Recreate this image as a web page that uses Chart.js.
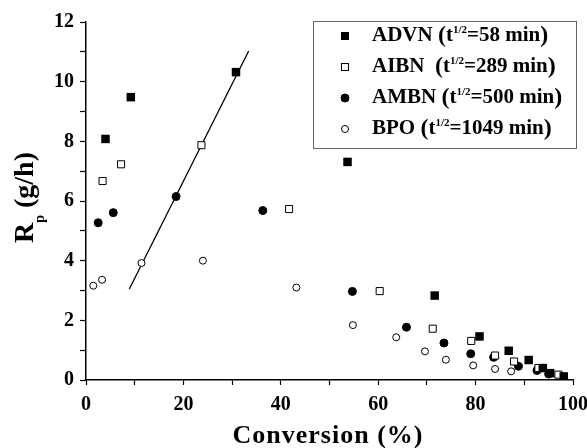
<!DOCTYPE html>
<html lang="en">
<head>
    <meta charset="UTF-8">
    <title>Rp vs Conversion</title>
    <style>
body {
    margin: 0;
    padding: 0;
    background: #fff;
}
.chart-box {
    width: 587px;
    height: 448px;
}
    </style>
    <script src="https://cdn.jsdelivr.net/npm/chart.js"></script>
</head>
<body>
    <div class="chart-box">
        <canvas id="rpChart"></canvas>
    </div>

    <script>
// data: conversion (%) and Rp (g/h)
const advnX = [4.0, 9.2, 30.8, 53.7, 71.6, 80.8, 86.8, 90.9, 93.8, 95.3, 98.1];
const advnY = [8.08, 9.48, 10.32, 7.31, 2.83, 1.46, 0.98, 0.67, 0.40, 0.23, 0.12];

const aibnX = [3.4, 7.2, 23.7, 41.7, 60.3, 71.2, 79.1, 84.0, 87.9, 92.9, 97.0];
const aibnY = [6.67, 7.23, 7.87, 5.73, 2.98, 1.72, 1.31, 0.82, 0.62, 0.40, 0.18];

const ambnX = [2.5, 5.6, 18.5, 36.3, 54.7, 65.8, 73.5, 79.0, 83.7, 88.8, 92.6, 95.0];
const ambnY = [5.27, 5.61, 6.15, 5.68, 2.97, 1.77, 1.24, 0.88, 0.76, 0.46, 0.32, 0.20];

const bpoX = [1.5, 3.3, 11.4, 24.0, 43.2, 54.8, 63.7, 69.6, 73.9, 79.5, 84.0, 87.3];
const bpoY = [3.16, 3.36, 3.92, 4.00, 3.10, 1.84, 1.43, 0.96, 0.68, 0.49, 0.37, 0.29];

// straight guide line
const fitX = [8.9, 33.4];
const fitY = [3.05, 11.03];

const legendNames = ["ADVN ", "AIBN  ", "AMBN ", "BPO "];
const legendHalfLife = ["58", "289", "500", "1049"];

const serif = "'Liberation Serif', 'Times New Roman', serif";

function pts(xs, ys) {
    return xs.map((x, i) => ({ x: x, y: ys[i] }));
}

// titles and legend with sub/superscripts
const textPlugin = {
    id: "textPlugin",
    afterDraw(chart) {
        const ctx = chart.ctx;
        ctx.save();
        ctx.fillStyle = "#000";
        ctx.textBaseline = "alphabetic";
        ctx.textAlign = "left";

        // y title: R_p (g/h)
        ctx.save();
        ctx.translate(33, 243);
        ctx.rotate(-Math.PI / 2);
        let x = 0;
        ctx.font = "bold 28px " + serif;
        ctx.fillText("R", x, 0);
        x += ctx.measureText("R").width;
        ctx.font = "bold 14px " + serif;
        ctx.fillText("p", x, 11);
        x += ctx.measureText("p").width;
        ctx.font = "bold 28px " + serif;
        ctx.fillText(" (g/h)", x, 0);
        ctx.restore();

        // x title
        ctx.save();
        ctx.font = "bold 26px " + serif;
        ctx.letterSpacing = "1px";
        ctx.textAlign = "center";
        ctx.fillText("Conversion (%)", 328, 443);
        ctx.restore();

        // legend box
        ctx.strokeStyle = "#666";
        ctx.lineWidth = 1;
        ctx.strokeRect(313.5, 21.5, 263, 127);

        const rows = [41, 72, 103, 134];
        rows.forEach((ry, i) => {
            const mx = 345, my = ry - 5;
            ctx.lineWidth = 1;
            ctx.strokeStyle = "#000";
            if (i === 0) {
                ctx.fillStyle = "#000";
                ctx.fillRect(mx - 4, my - 4, 8, 8);
            } else if (i === 1) {
                ctx.fillStyle = "#fff";
                ctx.fillRect(mx - 3.5, my - 3.5, 7, 7);
                ctx.strokeRect(mx - 3.5, my - 3.5, 7, 7);
            } else {
                ctx.beginPath();
                ctx.arc(mx, my, i === 2 ? 4 : 3.5, 0, Math.PI * 2);
                ctx.fillStyle = i === 2 ? "#000" : "#fff";
                ctx.fill();
                ctx.stroke();
            }
            ctx.fillStyle = "#000";
            let tx = 372;
            ctx.font = "bold 21px " + serif;
            ctx.fillText(legendNames[i], tx, ry);
            tx += ctx.measureText(legendNames[i]).width;
            ctx.font = "bold 24px " + serif;
            ctx.fillText("(", tx, ry + 1);
            tx += ctx.measureText("(").width;
            ctx.font = "bold 21px " + serif;
            ctx.fillText("t", tx, ry);
            tx += ctx.measureText("t").width;
            ctx.font = "bold 11px " + serif;
            ctx.fillText("1/2", tx, ry - 8);
            tx += ctx.measureText("1/2").width;
            ctx.font = "bold 21px " + serif;
            const rest = "=" + legendHalfLife[i] + " min";
            ctx.fillText(rest, tx, ry);
            tx += ctx.measureText(rest).width;
            ctx.font = "bold 24px " + serif;
            ctx.fillText(")", tx, ry + 1);
        });
        ctx.restore();
    }
};

new Chart(document.getElementById("rpChart"), {
    type: "scatter",
    data: {
        datasets: [
            {
                label: "ADVN",
                data: pts(advnX, advnY),
                pointStyle: "rect",
                pointRadius: 6,
                backgroundColor: "#000",
                borderColor: "#000",
                borderWidth: 0
            },
            {
                label: "AIBN",
                data: pts(aibnX, aibnY),
                pointStyle: "rect",
                pointRadius: 5,
                backgroundColor: "#fff",
                borderColor: "#000",
                borderWidth: 1
            },
            {
                label: "AMBN",
                data: pts(ambnX, ambnY),
                pointStyle: "circle",
                pointRadius: 4,
                backgroundColor: "#000",
                borderColor: "#000",
                borderWidth: 1
            },
            {
                label: "BPO",
                data: pts(bpoX, bpoY),
                pointStyle: "circle",
                pointRadius: 3.5,
                backgroundColor: "#fff",
                borderColor: "#000",
                borderWidth: 1
            },
            {
                type: "line",
                label: "fit",
                data: pts(fitX, fitY),
                borderColor: "#000",
                borderWidth: 1.3,
                pointRadius: 0,
                fill: false
            }
        ]
    },
    options: {
        responsive: true,
        maintainAspectRatio: false,
        animation: false,
        layout: { padding: { top: 22, right: 14, left: 0, bottom: 0 } },
        plugins: {
            legend: { display: false },
            tooltip: { enabled: false }
        },
        scales: {
            x: {
                type: "linear",
                min: 0,
                max: 100,
                afterFit: s => {
                    s.height = 68;
                    s.paddingRight = 0;
                    s.paddingLeft = 0;
                },
                border: { display: true, color: "#000", width: 1.5 },
                grid: { drawOnChartArea: false, tickLength: 5, color: "#000", tickWidth: 1.2 },
                ticks: {
                    stepSize: 10,
                    autoSkip: false,
                    maxRotation: 0,
                    padding: 8,
                    color: "#000",
                    font: { family: serif, size: 20, weight: "bold" },
                    callback: v => (v % 20 === 0 ? v : "")
                }
            },
            y: {
                type: "linear",
                min: 0,
                max: 12,
                afterFit: s => { s.width = 86; },
                border: { display: true, color: "#000", width: 1.5 },
                grid: { drawOnChartArea: false, tickLength: 6, color: "#000", tickWidth: 1.2 },
                ticks: {
                    stepSize: 1,
                    autoSkip: false,
                    padding: 6,
                    color: "#000",
                    font: { family: serif, size: 20, weight: "bold" },
                    callback: v => (v % 2 === 0 ? v : "")
                }
            }
        }
    },
    plugins: [textPlugin]
});
    </script>
</body>
</html>
